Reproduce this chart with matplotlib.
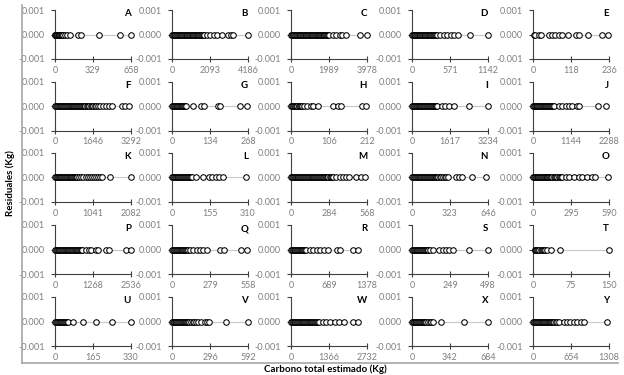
import numpy as np
import matplotlib.pyplot as plt
from matplotlib.lines import Line2D

plt.rcParams['font.family'] = ['Lato', 'DejaVu Sans']

# panel letters and x axis ticks (0, mid, max)
letters = list('ABCDEFGHIJKLMNOPQRSTUVWXY')
xmid = [329, 2093, 1989, 571, 118, 1646, 134, 106, 1617, 1144, 1041, 155, 284,
        323, 295, 1268, 279, 689, 249, 75, 165, 296, 1366, 342, 654]
xmax = [658, 4186, 3978, 1142, 236, 3292, 268, 212, 3234, 2288, 2082, 310, 568,
        646, 590, 2536, 558, 1378, 498, 150, 330, 592, 2732, 684, 1308]

# estimated carbon (x) of each tree, residual is 0 for all of them
x_A = [1, 4, 8, 12, 16, 21, 26, 31, 36, 41, 46, 52, 58, 64, 70,
       85, 100, 134, 200, 228, 385, 561, 655]
x_B = [5, 45, 95, 140, 190, 240, 285, 330, 380, 430, 470, 520, 570, 610, 660, 710, 750, 800,
       850, 890, 940, 990, 1030, 1080, 1130, 1170, 1220, 1270, 1310, 1360, 1410, 1450, 1500,
       1550, 1590, 1640, 1690, 1740, 1790,
       1930, 2080, 2310, 2500, 2780, 3060, 3250, 3380, 4186]
x_C = [5, 45, 90, 130, 180, 225, 265, 315, 360, 400, 450, 495, 535, 585, 630, 670, 720, 765,
       805, 855, 900, 940, 990, 1035, 1075, 1125, 1170, 1210, 1260, 1305, 1345, 1395, 1440,
       1480, 1530, 1575, 1615, 1665, 1710, 1750, 1800, 1850, 1900, 1950, 2010,
       2190, 2360, 2540, 2670, 2900, 3620, 3978]
x_D = [2, 12, 25, 38, 50, 63, 76, 88, 100, 113, 126, 138, 150, 163, 176, 188, 200, 213, 226,
       238, 250, 263, 276, 290, 305, 320, 335, 350, 362, 375,
       425, 476, 527, 579, 630, 691, 870, 1142]
x_E = [3, 6, 18, 24, 51, 59, 69, 81, 91, 109, 132, 142, 170, 213, 234]
x_F = [5, 40, 80, 120, 160, 200, 240, 280, 320, 360, 400, 440, 480, 520, 560, 600, 640, 680,
       720, 760, 800, 840, 880, 920, 960, 1000, 1040, 1080, 1120, 1160, 1200, 1240, 1280,
       1320, 1370, 1420, 1480, 1540, 1600, 1660, 1720, 1790, 1860, 1930,
       2070, 2210, 2350, 2490, 2920, 3030, 3210]
x_G = [1, 4, 7, 10, 13, 16, 19, 22, 25, 28, 31, 34, 37, 40, 43, 46,
       51, 74, 103, 112, 162, 170, 239, 266]
x_H = [1, 3, 6, 8, 11, 13, 16, 18, 21, 23, 26, 28, 31,
       35, 45, 55, 62, 75, 118, 132, 140, 198, 210]
x_I = [5, 40, 80, 120, 160, 200, 240, 280, 320, 360, 400, 440, 480, 520, 560, 600, 640, 680,
       720, 760, 800, 840, 880, 920, 960, 1000, 1040, 1060,
       1280, 1420, 1570, 1780, 2440, 3230]
x_J = [3, 27, 54, 80, 107, 134, 160, 187, 214, 240, 267, 294, 320, 347, 374, 400, 427, 454,
       480, 507, 534, 560, 590,
       640, 790, 880, 980, 1080, 1180, 1330, 1375, 1960, 2210]
x_K = [3, 25, 50, 75, 100, 125, 150, 175, 200, 225, 250, 275, 300, 325, 350, 375, 400, 425,
       450, 475, 500, 525, 550, 575, 600, 615, 660, 720, 780, 840, 900, 960, 1020, 1080,
       1130, 1180, 1230, 1280, 1510, 2080]
x_L = [1, 4, 8, 12, 15, 19, 23, 26, 30, 34, 37, 41, 45, 48, 52, 56, 60, 64, 68, 72, 76,
       83, 98, 127, 149, 164, 178, 193, 208, 303]
x_M = [1, 7, 14, 21, 28, 35, 42, 49, 56, 63, 70, 77, 84, 91, 98, 105, 112, 119, 126, 133,
       140, 147, 154, 161, 168, 175, 182, 189, 196, 203, 210, 217, 224, 231, 238, 245, 252,
       259, 266, 273, 280, 288, 296, 304,
       316, 340, 364, 388, 412, 436, 484, 520, 556]
x_N = [1, 8, 16, 24, 32, 40, 48, 56, 64, 72, 80, 88, 96, 104, 112, 120, 128, 136, 144, 152,
       160, 168, 176, 184, 192, 200, 208, 216, 224, 234, 250, 265, 280, 292,
       302, 371, 399, 426, 509, 632]
x_O = [1, 7, 14, 21, 28, 35, 42, 49, 56, 63, 70, 77, 84, 91, 98, 105, 112, 119, 126, 133,
       140, 150, 160, 170, 180, 190, 200, 210, 220, 229,
       254, 280, 318, 356, 381, 420, 458, 483, 585]
x_P = [3, 30, 60, 90, 120, 150, 180, 210, 240, 270, 300, 330, 360, 390, 420, 450, 480, 510,
       540, 570, 600, 630, 660, 690, 720, 750, 780, 810, 840, 870, 900, 916,
       1028, 1140, 1195, 1363, 1441, 1698, 1810, 2368, 2530]
x_Q = [1, 7, 14, 21, 28, 35, 42, 49, 56, 63, 70, 77, 84, 91, 98, 105, 112, 119,
       131, 156, 181, 206, 231, 255, 355, 384, 508, 548]
x_R = [2, 16, 32, 48, 64, 80, 96, 112, 128, 144, 160, 176, 192, 208, 224, 240, 256, 273,
       338, 403, 468, 533, 598, 663, 826, 890, 1118, 1210]
x_S = [1, 6, 12, 18, 24, 30, 36, 42, 48, 54, 60, 66, 72, 78, 84, 90, 96, 102, 108, 115,
       136, 180, 201, 223, 245, 266, 375, 498]
x_T = [3, 4, 5, 6, 8, 10, 12, 15, 17, 19, 22, 24, 28, 36, 54, 150]
x_U = [1, 4, 8, 12, 16, 20, 24, 28, 32, 36, 40, 44, 48, 52,
       57, 76, 122, 179, 248, 330]
x_V = [1, 7, 14, 21, 28, 35, 42, 49, 56, 63, 70, 77, 84, 91, 98, 105, 112, 119, 126, 133,
       145, 160, 175, 190, 203, 228, 254, 273, 288, 418, 590]
x_W = [3, 32, 64, 96, 128, 160, 192, 224, 256, 288, 320, 352, 384, 416, 448, 480, 512, 544,
       576, 608, 640, 672, 704, 736, 768, 800, 832, 864, 896, 928, 960, 1005,
       1135, 1266, 1396, 1592, 1722, 1918, 2244, 2414]
x_X = [1, 8, 16, 24, 32, 40, 48, 56, 64, 72, 80, 88, 96, 104, 112, 120, 128,
       143, 158, 172, 193, 262, 470, 684]
x_Y = [2, 15, 30, 45, 60, 75, 90, 105, 120, 135, 150, 165, 180, 195, 210, 225, 240, 255,
       270, 285, 300, 315, 330, 345, 370, 395, 420, 444,
       530, 588, 645, 703, 760, 818, 876, 1279]

xs = [x_A, x_B, x_C, x_D, x_E, x_F, x_G, x_H, x_I, x_J, x_K, x_L, x_M,
      x_N, x_O, x_P, x_Q, x_R, x_S, x_T, x_U, x_V, x_W, x_X, x_Y]

W, H = 624, 375
col_left = [55, 172, 291, 412, 533]
row_top = [10, 81.5, 153, 225, 297]
aw, ah = 76, 49
grey = '#7f7f7f'
axcol = '#404040'

fig = plt.figure(figsize=(W / 100, H / 100), dpi=100)

for i in range(25):
    r, c = divmod(i, 5)
    ax = fig.add_axes([col_left[c] / W, 1 - (row_top[r] + ah) / H, aw / W, ah / H])
    x = np.array(xs[i], dtype=float)
    y = np.zeros_like(x)
    ax.plot(x, y, color='#c8c8c8', lw=0.8, zorder=2, clip_on=False)
    ax.plot(x, y, linestyle='', marker='o', markersize=4, markerfacecolor='white',
            markeredgecolor='black', markeredgewidth=0.75, zorder=3, clip_on=False)
    ax.set_xlim(0, xmax[i])
    ax.set_ylim(-0.001, 0.001)
    ax.set_xticks([0, xmid[i], xmax[i]])
    ax.set_xticklabels(['0', str(xmid[i]), str(xmax[i])])
    ax.set_yticks([-0.001, 0, 0.001])
    ax.set_yticklabels(['-0.001', '0.000', '0.001'])
    for s in ['top', 'right']:
        ax.spines[s].set_visible(False)
    for s in ['left', 'bottom']:
        ax.spines[s].set_color(axcol)
        ax.spines[s].set_linewidth(0.8)
    ax.tick_params(axis='y', direction='out', length=3, width=0.8, color=axcol,
                   labelsize=6.5, labelcolor=grey, pad=4.5)
    ax.tick_params(axis='x', direction='inout', length=4, width=0.8, color=axcol,
                   labelsize=6.5, labelcolor=grey, pad=3)
    ax.patch.set_alpha(0)
    ax.text(1.0, 0.92, letters[i], transform=ax.transAxes, ha='right', va='center',
            fontsize=7, fontweight='bold', color='black')

# outer frame (left and bottom)
fig.add_artist(Line2D([21.5 / W, 21.5 / W], [1 - 5 / H, 1 - 363 / H], color='#a6a6a6',
                      lw=1.2, transform=fig.transFigure))
fig.add_artist(Line2D([21.5 / W, 618 / W], [1 - 363 / H, 1 - 363 / H], color='#a6a6a6',
                      lw=1.2, transform=fig.transFigure))

fig.text(10 / W, 1 - 183 / H, 'Residuales (Kg)', rotation=90, ha='center', va='center',
         fontsize=7, fontweight='bold', color='black')
fig.text(325 / W, 1 - 369 / H, 'Carbono total estimado (Kg)', ha='center', va='center',
         fontsize=7, fontweight='bold', color='black')

fig.savefig('out.png', dpi=100, facecolor='white')
